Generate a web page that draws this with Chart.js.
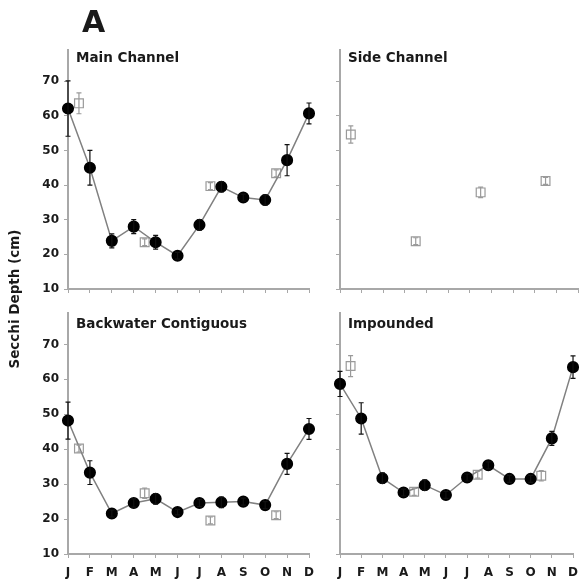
<!DOCTYPE html>
<html>
<head>
<meta charset="utf-8">
<script src="https://cdn.jsdelivr.net/npm/chart.js@4.4.0/dist/chart.umd.min.js"></script>
<style>
  body { margin: 0; background: #fff; }
  #wrap { position: relative; width: 586px; height: 585px; overflow: hidden; }
  #wrap canvas { position: absolute; left: 0; top: 0; }
</style>
</head>
<body>
<div id="wrap">
  <canvas id="c1" width="586" height="585"></canvas>
  <canvas id="c2" width="586" height="585"></canvas>
  <canvas id="c3" width="586" height="585"></canvas>
  <canvas id="c4" width="586" height="585"></canvas>
</div>
<script>
// Data
const months = ['J', 'F', 'M', 'A', 'M', 'J', 'J', 'A', 'S', 'O', 'N', 'D'];
const yTicks = [10, 20, 30, 40, 50, 60, 70];
const quarterX = [0.5, 3.5, 6.5, 9.5];

const mainMonthly = [62.1, 45.0, 23.9, 28.0, 23.5, 19.6, 28.5, 39.5, 36.4, 35.7, 47.2, 60.7];
const mainMonthlyErr = [8, 5, 2, 2, 2, 1, 1.5, 1.5, 1, 1.5, 4.5, 3];
const mainQuarterly = [63.6, 23.5, 39.7, 43.4];
const mainQuarterlyErr = [3, 1, 1, 1];

const sideQuarterly = [54.6, 23.8, 37.9, 41.2];
const sideQuarterlyErr = [2.5, 1, 1.5, 1];

const backMonthly = [48.2, 33.3, 21.6, 24.6, 25.8, 22.0, 24.6, 24.8, 25.0, 24.0, 35.8, 45.8];
const backMonthlyErr = [5.3, 3.4, 1, 1.2, 1.5, 0.8, 1, 1.5, 1, 1, 3, 3];
const backQuarterly = [40.2, 27.4, 19.6, 21.1];
const backQuarterlyErr = [1, 1.5, 1, 1];

const impMonthly = [58.7, 48.8, 31.7, 27.6, 29.7, 26.9, 31.9, 35.4, 31.5, 31.5, 43.1, 63.5];
const impMonthlyErr = [3.6, 4.5, 1.5, 1, 1.5, 1, 1, 1, 1, 1, 2, 3.2];
const impQuarterly = [63.8, 27.8, 32.7, 32.4];
const impQuarterlyErr = [3, 1, 1, 1.5];

const FONT = "'DejaVu Sans', sans-serif";
const AXIS = '#a8a8a8';

// error bars from dataset.errors
const errorBars = {
  id: 'errorBars',
  afterDatasetsDraw(chart) {
    const ctx = chart.ctx;
    const ys = chart.scales.y;
    chart.data.datasets.forEach((ds, i) => {
      if (!ds.errors) return;
      const meta = chart.getDatasetMeta(i);
      ctx.save();
      ctx.strokeStyle = ds.errColor;
      ctx.lineWidth = 1.2;
      meta.data.forEach((pt, j) => {
        const v = ds.data[j].y, e = ds.errors[j];
        const top = ys.getPixelForValue(v + e);
        const bot = ys.getPixelForValue(v - e);
        ctx.beginPath();
        ctx.moveTo(pt.x, top); ctx.lineTo(pt.x, bot);
        ctx.moveTo(pt.x - 2.5, top); ctx.lineTo(pt.x + 2.5, top);
        ctx.moveTo(pt.x - 2.5, bot); ctx.lineTo(pt.x + 2.5, bot);
        ctx.stroke();
      });
      ctx.restore();
    });
  }
};

// panel title + figure texts
const panelText = {
  id: 'panelText',
  afterDraw(chart, args, opts) {
    const ctx = chart.ctx;
    const a = chart.chartArea;
    ctx.save();
    ctx.fillStyle = '#1a1a1a';
    ctx.font = 'bold 13.5px ' + FONT;
    ctx.textBaseline = 'alphabetic';
    ctx.textAlign = 'left';
    ctx.fillText(opts.title, a.left + opts.dx, a.top + opts.dy);
    if (opts.figure) {
      ctx.font = 'bold 30px ' + FONT;
      ctx.fillText('A', 82, 32);
      ctx.font = 'bold 13.5px ' + FONT;
      ctx.translate(15, 299);
      ctx.rotate(-Math.PI / 2);
      ctx.textAlign = 'center';
      ctx.textBaseline = 'middle';
      ctx.fillText('Secchi Depth (cm)', 0, 0);
    }
    ctx.restore();
  }
};

const toPts = (xs, vals) => vals.map((v, i) => ({ x: xs[i], y: v }));
const monthIdx = months.map((m, i) => i);

function makePanel(id, area, title, monthly, monthlyErr, quarterly, quarterlyErr, showX, showY, figure) {
  const datasets = [];
  if (monthly) {
    datasets.push({
      data: toPts(monthIdx, monthly),
      errors: monthlyErr,
      errColor: '#111',
      borderColor: '#808080',
      borderWidth: 1.5,
      pointRadius: 5.3,
      pointBackgroundColor: '#000',
      pointBorderColor: '#000',
      clip: false
    });
  }
  datasets.push({
    data: toPts(quarterX, quarterly),
    errors: quarterlyErr,
    errColor: '#9a9a9a',
    showLine: false,
    pointStyle: 'rect',
    pointRadius: 6.2,
    pointBorderWidth: 1.2,
    pointBackgroundColor: '#fff',
    pointBorderColor: '#9a9a9a',
    clip: false
  });

  new Chart(document.getElementById(id), {
    type: 'line',
    data: { datasets },
    plugins: [errorBars, panelText],
    options: {
      responsive: false,
      devicePixelRatio: 1,
      animation: false,
      layout: {
        padding: { left: area.left - 40, right: 586 - area.right, top: area.top, bottom: 585 - area.bottom - 30 }
      },
      plugins: {
        legend: { display: false },
        tooltip: { enabled: false },
        panelText: { title, dx: 8, dy: area.top < 100 ? 12 : 15, figure }
      },
      scales: {
        x: {
          type: 'linear', min: 0, max: 11,
          afterBuildTicks: s => { s.ticks = monthIdx.map(v => ({ value: v })); },
          afterFit: s => { s.height = 30; },
          ticks: {
            callback: v => showX ? months[v] : '',
            autoSkip: false, maxRotation: 0, padding: 8,
            color: '#1a1a1a', font: { family: FONT, weight: 'bold', size: 12 }
          },
          grid: { drawOnChartArea: false, drawTicks: true, tickLength: 4, color: AXIS },
          border: { color: AXIS, width: 2 }
        },
        y: {
          type: 'linear', min: 10, max: 79,
          afterBuildTicks: s => { s.ticks = yTicks.map(v => ({ value: v })); },
          afterFit: s => { s.width = 40; },
          ticks: {
            callback: v => showY ? v : '',
            padding: 5,
            color: '#1a1a1a', font: { family: FONT, weight: 'bold', size: 12 }
          },
          grid: { drawOnChartArea: false, drawTicks: true, tickLength: 4, color: AXIS },
          border: { color: AXIS, width: 2 }
        }
      }
    }
  });
}

makePanel('c1', { left: 68, right: 309, top: 50, bottom: 289 }, 'Main Channel',
  mainMonthly, mainMonthlyErr, mainQuarterly, mainQuarterlyErr, false, true, true);
makePanel('c2', { left: 340, right: 581, top: 50, bottom: 289 }, 'Side Channel',
  null, null, sideQuarterly, sideQuarterlyErr, false, false, false);
makePanel('c3', { left: 68, right: 309, top: 313, bottom: 554 }, 'Backwater Contiguous',
  backMonthly, backMonthlyErr, backQuarterly, backQuarterlyErr, true, true, false);
makePanel('c4', { left: 340, right: 581, top: 313, bottom: 554 }, 'Impounded',
  impMonthly, impMonthlyErr, impQuarterly, impQuarterlyErr, true, false, false);
</script>
</body>
</html>
